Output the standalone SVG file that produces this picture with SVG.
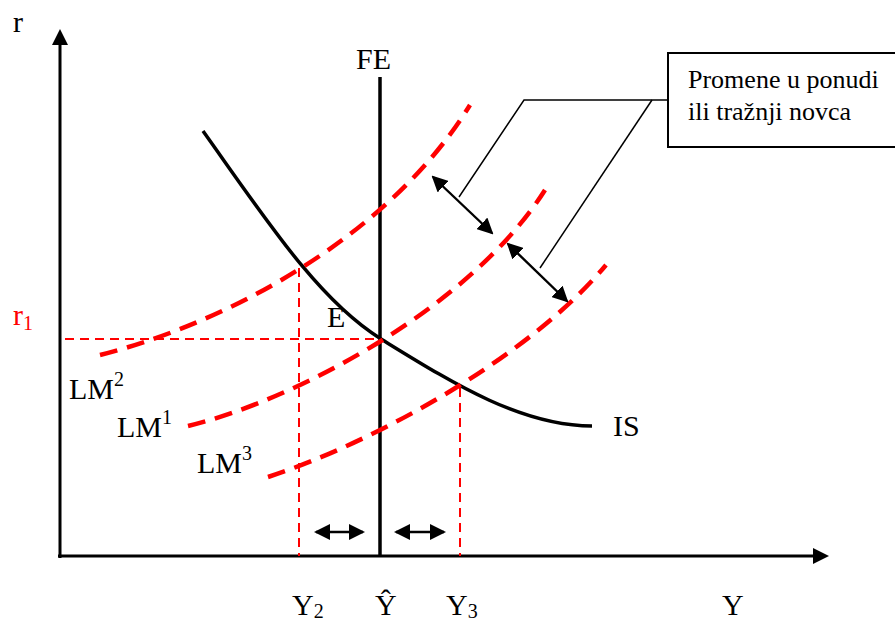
<svg xmlns="http://www.w3.org/2000/svg" width="895" height="622" viewBox="0 0 895 622">
<style>
text{font-family:"Liberation Serif","Times New Roman",serif;fill:#000}
.lbl{font-size:30px}
.box{font-size:26px}
.red{fill:#ff0000}
.lm{fill:none;stroke:#ff0000;stroke-width:4.5;stroke-dasharray:18 10}
.guide{fill:none;stroke:#ff0000;stroke-width:2;stroke-dasharray:9 6}
.axis{stroke:#000;stroke-width:3;fill:none}
.dbl{stroke:#000;stroke-width:2.4;fill:none;marker-start:url(#ah);marker-end:url(#ah)}
.call{stroke:#000;stroke-width:1.5;fill:none}
</style>
<defs>
<marker id="ah" viewBox="0 0 16 16" refX="14" refY="8" markerWidth="16" markerHeight="16" markerUnits="userSpaceOnUse" orient="auto-start-reverse">
<path d="M0,0 L16,8 L0,16 Z" fill="#000"/>
</marker>
</defs>
<rect width="895" height="622" fill="#fff"/>
<g id="axes">
<line class="axis" x1="60" y1="44" x2="60" y2="558"/>
<path d="M60,29 L68,45 L52,45 Z" fill="#000"/>
<line class="axis" x1="58" y1="556" x2="814" y2="556"/>
<path d="M829,556 L813,548 L813,564 Z" fill="#000"/>
<text class="lbl" x="13" y="32">r</text>
<text class="lbl" x="722" y="615">Y</text>
</g>
<g id="guides">
<path class="guide" d="M65,339 H380"/>
<path class="guide" d="M299,268 V556"/>
<path class="guide" d="M460,388 V556"/>
<text class="lbl red" x="13" y="325">r<tspan font-size="20" dy="5">1</tspan></text>
<text class="lbl" x="292" y="615">Y<tspan font-size="20" dy="3">2</tspan></text>
<text class="lbl" x="375" y="615">Ŷ</text>
<text class="lbl" x="446" y="615">Y<tspan font-size="20" dy="3">3</tspan></text>
</g>
<g id="FE">
<line x1="380" y1="77" x2="380" y2="556" stroke="#000" stroke-width="3.5"/>
<text class="lbl" x="356" y="69">FE</text>
</g>
<g id="IS">
<path d="M203,131 C265,218 318,300 381,339 C451,382 520,426 592,426" fill="none" stroke="#000" stroke-width="3.5"/>
<text class="lbl" x="613" y="436">IS</text>
</g>
<g id="E">
<text class="lbl" x="327" y="327">E</text>
</g>
<g id="LM2">
<path class="lm" d="M100,355 C230,322 390,235 470,105"/>
<text class="lbl" x="69" y="399">LM<tspan font-size="20" dy="-13">2</tspan></text>
</g>
<g id="LM1">
<path class="lm" d="M188,426 C295,400 470,308 545,190"/>
<text class="lbl" x="117" y="437">LM<tspan font-size="20" dy="-13">1</tspan></text>
</g>
<g id="LM3">
<path class="lm" d="M268,477 C378,441 531,355 606,265"/>
<text class="lbl" x="197" y="473">LM<tspan font-size="20" dy="-13">3</tspan></text>
</g>
<g id="callout">
<rect x="668" y="53" width="240" height="94" fill="#fff" stroke="#000" stroke-width="2"/>
<text class="box" x="688" y="88">Promene u ponudi</text>
<text class="box" x="688" y="120">ili tražnji novca</text>
</g>
<g id="connectors">
<polyline class="call" points="459,197 524,100 668,100"/>
<line class="call" x1="540" y1="268" x2="652" y2="100"/>
<line class="dbl" x1="433" y1="177" x2="492" y2="233"/>
<line class="dbl" x1="508" y1="244" x2="567" y2="301"/>
<line class="dbl" x1="316" y1="532" x2="363" y2="532"/>
<line class="dbl" x1="396" y1="532" x2="444" y2="532"/>
</g>
</svg>
